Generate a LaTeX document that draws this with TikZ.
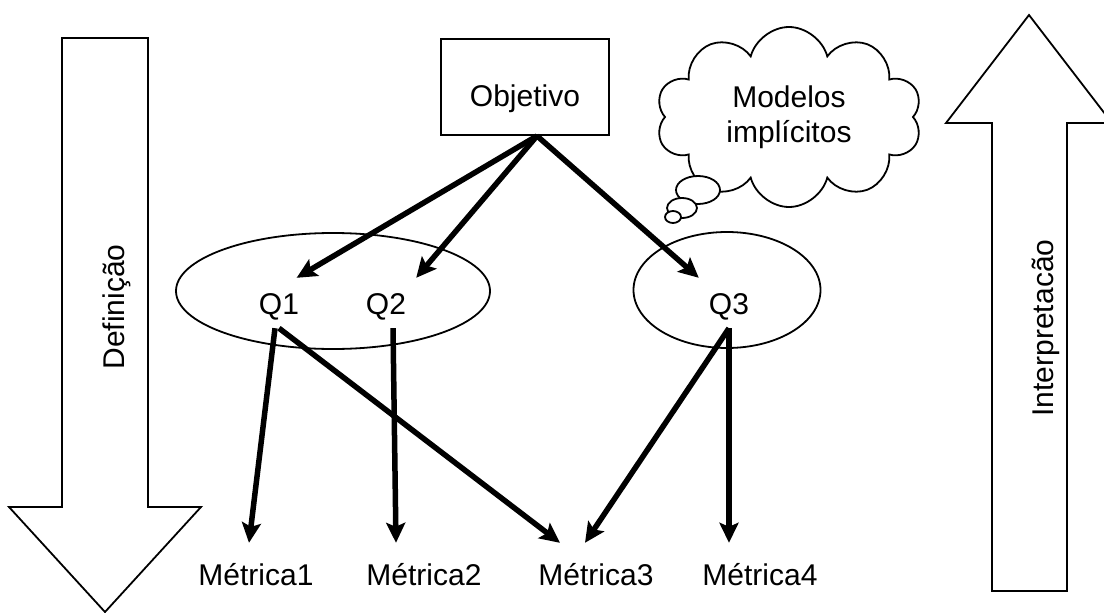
\documentclass[tikz,border=0pt]{standalone}
\usepackage{fontspec}
\setmainfont{Liberation Sans}
\usetikzlibrary{arrows.meta, shapes.geometric, shapes.symbols}

\begin{document}
\begin{tikzpicture}[
    x=1pt, y=-1pt,
    font=\fontsize{30}{35}\selectfont,
    outline/.style={draw, line width=1.8pt},
    label/.style={inner sep=0pt, text height=22pt, text depth=0pt},
    question/.style={label, minimum width=60pt, minimum height=50pt},
    metric/.style={label, minimum width=130pt, minimum height=62pt},
    group/.style={ellipse, outline, inner sep=0pt},
    arrow/.style={-{Stealth[length=20pt, width=19pt, inset=4pt]}, line width=5.5pt},
    bigarrow/.style={outline, line join=miter}
]
\useasboundingbox (0,0) rectangle (1104,613);

% SETAS LATERAIS
\draw[bigarrow] (62,38) -- (148,38) -- (148,507) -- (201,507) -- (105,612) -- (9,507) -- (62,507) -- cycle;
\draw[bigarrow] (992,591) -- (1067,591) -- (1067,123) -- (1112,123) -- (1029,15) -- (946,123) -- (992,123) -- cycle;
\node[rotate=90] (definicao) at (117,307) {Definição};
\node[rotate=90] (interpretacao) at (1046,328) {Interpretacão};

% OBJETIVO E NUVEM
\node[outline, minimum width=168pt, minimum height=96pt, inner sep=0pt, text height=38pt, text depth=0pt] (objetivo) at (525,87) {Objetivo};
\coordinate (apex) at ([xshift=12pt]objetivo.south);

\node[cloud, cloud puffs=10, cloud ignores aspect, outline, fill=white, align=center, minimum width=266pt, minimum height=180pt] (modelos) at (789,117) {Modelos\\implícitos};
\draw[outline, fill=white] (698,190) ellipse [x radius=22pt, y radius=14pt];
\draw[outline, fill=white] (682,208) ellipse [x radius=15pt, y radius=10pt];
\draw[outline, fill=white] (673,217) ellipse [x radius=8pt, y radius=6pt];

% PERGUNTAS
\node[group, minimum width=314pt, minimum height=116pt] (grupo1) at (333,291) {};
\node[group, minimum width=187pt, minimum height=116pt] (grupo2) at (727,290) {};
\node[question] (q1) at (279,303) {Q1};
\node[question] (q2) at (386,303) {Q2};
\node[question] (q3) at (729,303) {Q3};

% METRICAS
\node[metric] (m1) at (256,574) {Métrica1};
\node[metric] (m2) at (424,574) {Métrica2};
\node[metric] (m3) at (596,574) {Métrica3};
\node[metric] (m4) at (760,574) {Métrica4};

% SETAS objetivo -> perguntas
\draw[arrow] (apex) -- (q1.55);
\draw[arrow] (apex) -- (q2.north east);
\draw[arrow] (apex) -- (q3.north west);

% SETAS perguntas -> metricas
\draw[arrow] ([xshift=-4pt]q1.south) -- ([xshift=-7pt]m1.north);
\draw[arrow] (q1.south) -- ([xshift=-36pt]m3.north);
\draw[arrow] ([xshift=7pt]q2.south) -- ([xshift=-28pt]m2.north);
\draw[arrow] (q3.south) -- ([xshift=-11pt]m3.north);
\draw[arrow] (q3.south) -- ([xshift=-31pt]m4.north);

\end{tikzpicture}
\end{document}
